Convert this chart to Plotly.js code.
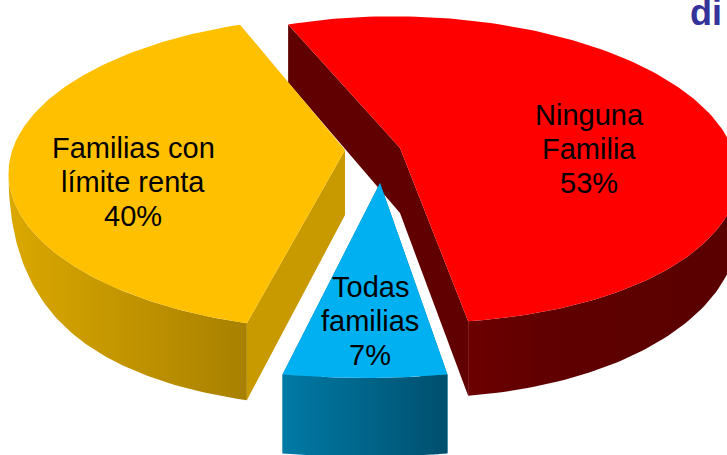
<!DOCTYPE html>
<html><head><meta charset="utf-8">
<script src="https://cdn.plot.ly/plotly-3.0.1.min.js"></script>
<style>html,body{margin:0;padding:0;background:#fff;overflow:hidden}</style></head>
<body><div id="chart" style="width:727px;height:455px"></div>
<script>
var categories = ["Ninguna Familia", "Familias con límite renta", "Todas familias"];
var shares = [53, 40, 7];
var labelLines = [["Ninguna","Familia","53%"], ["Familias con","límite renta","40%"], ["Todas","familias","7%"]];
var labelCentres = [[589,115],[133,148],[370,287]];
var topColors = ["#ff0000", "#ffc000", "#00b0f0"];

// Projection of each exploded slice of the tilted pie, on a 727x455 pixel axis
var geometry = [
  {tip:[400,148], c:[408,169.5], rx:330, ry:153, tilt:1.5, from:-112, depth:75, base:0.72, power:1, pinch:0.12, startD:58, tipD:65},
  {tip:[345,150], c:[348.5,173.5], rx:340, ry:157, tilt:0, from:107.4, depth:77, base:0, power:2.5, pinch:0.01, startD:77, tipD:65},
  {tip:[380,183], c:[365,228], rx:378, ry:150, tilt:0, from:77.4, depth:79, base:1, power:1, pinch:0.01, startD:79, tipD:79}
];
var wallStyles = [
  {cut:"#600000", outer:[[0,"#6c0000"],[0.3,"#600000"],[1,"#590000"]]},
  {cut:"#c99a00", outer:[[0,"#dba800"],[1,"#a88000"]]},
  {cut:"#007aa6", outer:[[0,"#007aa6"],[1,"#004f6e"]]}
];

function arcPoints(g, share){
  var span = share/100*360, pts = [], n = 160, r = g.tilt*Math.PI/180;
  for (var i=0;i<=n;i++){
    var t = (g.from + span*i/n)*Math.PI/180;
    var x = g.rx*Math.cos(t), y = g.ry*Math.sin(t);
    pts.push({x:g.c[0]+x*Math.cos(r)-y*Math.sin(r), y:g.c[1]+x*Math.sin(r)+y*Math.cos(r), s:Math.sin(t)});
  }
  return pts;
}
function poly(pts, color, gradient){
  var xs = pts.map(function(p){return p[0]}), ys = pts.map(function(p){return p[1]});
  xs.push(xs[0]); ys.push(ys[0]);
  var tr = {type:"scatter", mode:"lines", x:xs, y:ys, line:{width:0,color:color},
    fill:"toself", fillcolor:color, hoverinfo:"skip", showlegend:false};
  if (gradient) tr.fillgradient = {type:"horizontal", colorscale:gradient};
  return tr;
}
function rimDepth(g, s){
  var shaped = g.base + (1-g.base)*(1-Math.pow(1-Math.max(0,Math.min(1,s)), g.power));
  return g.depth*shaped*Math.min(1, s/g.pinch);
}

var traces = [];
geometry.forEach(function(g,k){
  var arc = arcPoints(g, shares[k]);
  var first = arc[0], last = arc[arc.length-1];
  // cut faces: the one at the start of the arc, then the one at its end
  var dStart = g.startD, dEnd = rimDepth(g, last.s);
  if (k === 1) { dStart = rimDepth(g, first.s); }
  traces.push(poly([[first.x,first.y],g.tip,[g.tip[0],g.tip[1]+g.tipD],[first.x,first.y+dStart]], wallStyles[k].cut));
  if (k !== 1) traces.push(poly([[last.x,last.y],g.tip,[g.tip[0],g.tip[1]+g.tipD],[last.x,last.y+dEnd]], wallStyles[k].cut));
  // outer rim: only the part of the arc that faces the viewer
  var front = arc.filter(function(p){ return p.s > 0; });
  var upper = front.map(function(p){ return [p.x,p.y]; });
  var lower = front.map(function(p){ return [p.x,p.y+rimDepth(g,p.s)]; }).reverse();
  traces.push(poly(upper.concat(lower), wallStyles[k].cut, wallStyles[k].outer));
});
geometry.forEach(function(g,k){
  var arc = arcPoints(g, shares[k]).map(function(p){ return [p.x,p.y]; });
  traces.push(poly([g.tip].concat(arc), topColors[k]));
});
var annotations = [];
labelLines.forEach(function(lines,k){
  lines.forEach(function(t,j){
    annotations.push({xref:"x",yref:"y",x:labelCentres[k][0],y:labelCentres[k][1]+j*34,text:t,showarrow:false,
      font:{family:"Liberation Sans",size:29,color:"#000"},xanchor:"center",yanchor:"middle"});
  });
});
annotations.push({xref:"x",yref:"y",x:724,y:12,text:"<b>di</b>",showarrow:false,xanchor:"right",yanchor:"middle",
  font:{family:"Liberation Sans",size:36,color:"#333399"}});
Plotly.newPlot("chart", traces, {
  width:727,height:455,margin:{l:0,r:0,t:0,b:0},paper_bgcolor:"#fff",plot_bgcolor:"#fff",showlegend:false,
  xaxis:{range:[0,727],visible:false,fixedrange:true},
  yaxis:{range:[455,0],visible:false,fixedrange:true},
  annotations:annotations
},{displayModeBar:false,staticPlot:true});
</script></body></html>
